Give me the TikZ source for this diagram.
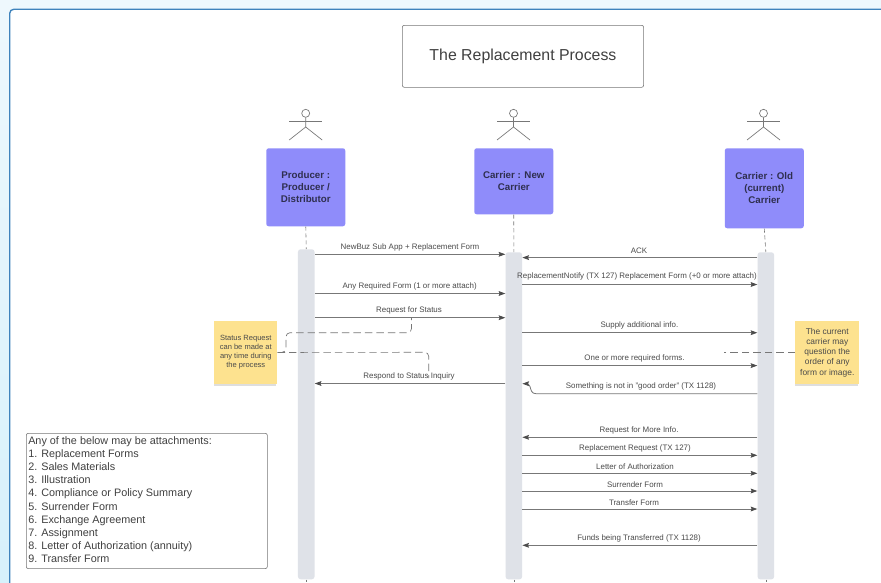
\documentclass[tikz,border=0pt]{standalone}
\usepackage{fontspec}
\setmainfont{Liberation Sans}
\usetikzlibrary{arrows.meta,calc,positioning}
\definecolor{frameblue}{HTML}{3F83BC}
\definecolor{bgtop}{HTML}{EEF8FD}
\definecolor{bgbot}{HTML}{D6F1FB}
\definecolor{actorbox}{HTML}{8F8CFA}
\definecolor{actortext}{HTML}{2F2F4F}
\definecolor{barfill}{HTML}{DFE2E8}
\definecolor{notefill}{HTML}{FDE28F}
\definecolor{linegrey}{HTML}{777777}
\definecolor{txt}{HTML}{4A4A4A}
\tikzset{
  x=0.75pt,y=-0.75pt,
  actor/.style={draw=none,fill=actorbox,rounded corners=1.8pt,align=center,text=actortext,font=\fontsize{7.3}{9}\selectfont\bfseries,inner sep=0pt,anchor=north west},
  bar/.style={draw=none,fill=barfill,rounded corners=2pt,inner sep=0pt,anchor=north west},
  stick/.style={draw=linegrey,line width=0.5pt},
  life/.style={draw=linegrey,line width=0.45pt,dash pattern=on 3pt off 2.2pt},
  msg/.style={draw=linegrey,line width=0.6pt,-{Stealth[length=5pt,width=3.6pt,inset=0.8pt,color=black!70]}},
  mlab/.style={text=txt,font=\fontsize{5.95}{7.6}\selectfont,inner sep=0pt,yshift=-0.5pt},
  note/.style={fill=notefill,draw=none,align=center,text=txt,inner sep=0pt,anchor=north west},
  noteshadow/.style={fill=black!13,draw=none},
  notedash/.style={draw=linegrey,line width=0.5pt,dash pattern=on 5.6pt off 3pt},
}
\newcommand{\stickman}[1]{%
  \draw[stick] (#1,113.3) circle[radius=4];
  \draw[stick] ($(#1,117.3)$) -- ($(#1,127)$) -- ($(#1,127)+(-16.5,13)$);
  \draw[stick] ($(#1,127)$) -- ($(#1,127)+(16.5,13)$);
  \draw[stick] ($(#1,121)+(-16.5,0)$) -- ($(#1,121)+(16.5,0)$);
}
\newcommand{\msgR}[6]{% from to y labelx labely name
  \draw[msg] (#1.east |- 0,#3) -- (#2.west |- 0,#3);
  \node[mlab] (#6) at (#4,#5) {\csname lbl#6\endcsname};
}
\newcommand{\msgL}[6]{%
  \draw[msg] (#1.west |- 0,#3) -- (#2.east |- 0,#3);
  \node[mlab] (#6) at (#4,#5) {\csname lbl#6\endcsname};
}
\expandafter\def\csname lblmA\endcsname{NewBuz Sub App + Replacement Form}
\expandafter\def\csname lblmB\endcsname{Any Required Form (1 or more attach)}
\expandafter\def\csname lblmC\endcsname{Request for Status}
\expandafter\def\csname lblmD\endcsname{Respond to Status Inquiry}
\expandafter\def\csname lblmE\endcsname{ACK}
\expandafter\def\csname lblmF\endcsname{ReplacementNotify (TX 127) Replacement Form (+0 or more attach)}
\expandafter\def\csname lblmG\endcsname{Supply additional info.}
\expandafter\def\csname lblmH\endcsname{One or more required forms.}
\expandafter\def\csname lblmJ\endcsname{Request for More Info.}
\expandafter\def\csname lblmK\endcsname{Replacement Request (TX 127)}
\expandafter\def\csname lblmL\endcsname{Letter of Authorization}
\expandafter\def\csname lblmM\endcsname{Surrender Form}
\expandafter\def\csname lblmN\endcsname{Transfer Form}
\expandafter\def\csname lblmO\endcsname{Funds being Transferred (TX 1128)}
\begin{document}
\begin{tikzpicture}
\useasboundingbox (0,0) rectangle (881,582);
% page background and frame
\shade[top color=bgtop,bottom color=bgbot] (0,0) rectangle (881,582);
\fill[white] (10,9.5) [rounded corners=3pt] -- (890,9.5) [sharp corners] -- (890,592) -- (10,592) [rounded corners=3pt] -- cycle;
\draw[frameblue,line width=1pt,rounded corners=3pt] (890,9.3) -- (9.7,9.3) -- (9.7,592);
% title
\node[draw=linegrey,line width=0.45pt,rounded corners=1.5pt,minimum width=181pt,minimum height=46.5pt,inner sep=0pt,anchor=north west,font=\fontsize{11.9}{14}\selectfont,text=black!75] (title) at (402,25) {The Replacement Process};
% actors
\stickman{305.7}\stickman{513.5}\stickman{763.5}
\node[actor,minimum width=59.25pt,minimum height=58.5pt] (prod) at (266,148) {Producer :\\Producer /\\Distributor};
\node[actor,minimum width=59.25pt,minimum height=49.5pt] (newc) at (474,148) {Carrier : New\\Carrier};
\node[actor,minimum width=59.25pt,minimum height=60pt] (oldc) at (724.5,148) {Carrier : Old\\(current)\\Carrier};
% activation bars
\node[bar,minimum width=12.4pt,minimum height=247.5pt] (pb) at (297.7,249) {};
\node[bar,minimum width=12.4pt,minimum height=245.3pt] (nb) at (505.3,252) {};
\node[bar,minimum width=12.4pt,minimum height=245.3pt] (ob) at (757.3,252) {};
% lifelines
\coordinate (pend) at (pb.south |- 0,582);
\coordinate (nend) at (nb.south |- 0,582);
\coordinate (oend) at (ob.south |- 0,582);
\draw[life] (prod.south) -- (pb.north);
\draw[life] (newc.south) -- (nb.north);
\draw[life] (oldc.south) -- (ob.north);
\draw[life] (pb.south) -- (pend);
\draw[life] (nb.south) -- (nend);
\draw[life] (ob.south) -- (oend);
% messages
\msgR{pb}{nb}{254.3}{410}{247}{mA}
\msgR{pb}{nb}{293.5}{409.7}{286}{mB}
\msgR{pb}{nb}{317.7}{409}{310}{mC}
\msgL{nb}{pb}{383.5}{409}{376}{mD}
\msgL{ob}{nb}{257.6}{639}{250}{mE}
\msgR{nb}{ob}{284.5}{637}{275.5}{mF}
\msgR{nb}{ob}{332.7}{639.5}{325}{mG}
\msgR{nb}{ob}{365.6}{634.5}{358}{mH}
\draw[msg] (ob.west |- 0,393.7) -- (536,393.7) .. controls (531.5,393.7) and (531,390) .. (530,386.5) .. controls (529.3,384.3) and (527,383.7) .. (nb.east |- 0,383.7);
\node[mlab] (mI) at (641,386) {Something is not in "good order" (TX 1128)};
\msgL{ob}{nb}{437.3}{639}{429.7}{mJ}
\msgR{nb}{ob}{455.3}{635}{448}{mK}
\msgR{nb}{ob}{473.3}{635}{465.7}{mL}
\msgR{nb}{ob}{491}{635}{483.7}{mM}
\msgR{nb}{ob}{509}{634}{501.7}{mN}
\msgL{ob}{nb}{545.3}{639}{537.3}{mO}
% notes
\fill[noteshadow] (213.5,325) rectangle (276,386);
\fill[noteshadow] (794.5,325) rectangle (858,386);
\node[note,minimum width=47.25pt,minimum height=47.5pt,font=\fontsize{5.65}{6.85}\selectfont] (nl) at (214,320.5) {Status Request\\can be made at\\any time during\\the process};
\node[note,minimum width=48pt,minimum height=47.5pt,font=\fontsize{6.3}{7.65}\selectfont] (nr) at (795,320.5) {The current\\carrier may\\question the\\order of any\\form or image.};
% note leaders
\coordinate (rq) at (411.5,318);
\coordinate (rs) at (428.7,378);
\coordinate (oq) at (724,352.3);
\draw[notedash,rounded corners=3pt] (nl.east) -- (286,352.3) -- (286,332.7) -- (411.5,332.7) -- (rq);
\draw[notedash,rounded corners=3pt] (nl.east) -- (428.7,352.3) -- (rs);
\draw[notedash] (nr.west |- oq) -- (oq);
% attachments list
\node[draw=linegrey,line width=0.45pt,rounded corners=1.5pt,minimum width=180.75pt,minimum height=101.5pt,inner sep=0pt,anchor=north west] (lst) at (26,433) {};
\node[anchor=north west,inner sep=0pt,align=left,text=black!75,font=\fontsize{8.12}{9.9}\selectfont] (lsttxt) at (28,436) {Any of the below may be attachments:\\1. Replacement Forms\\2. Sales Materials\\3. Illustration\\4. Compliance or Policy Summary\\5. Surrender Form\\6. Exchange Agreement\\7. Assignment\\8. Letter of Authorization (annuity)\\9. Transfer Form};
\end{tikzpicture}
\end{document}
